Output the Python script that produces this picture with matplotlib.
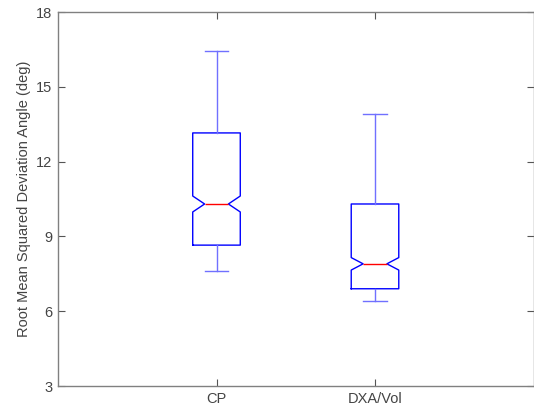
import matplotlib.pyplot as plt

# Box statistics (deg)
groups = ["CP", "DXA/Vol"]
whislo = [7.6, 6.4]
q1 = [8.65, 6.9]
med = [10.3, 7.9]
q3 = [13.15, 10.3]
whishi = [16.45, 13.9]
cilo = [9.98, 7.65]
cihi = [10.62, 8.15]

stats = []
for i, name in enumerate(groups):
    stats.append({
        "label": name, "whislo": whislo[i], "q1": q1[i], "med": med[i],
        "q3": q3[i], "whishi": whishi[i], "cilo": cilo[i], "cihi": cihi[i],
        "fliers": [],
    })

plt.rcParams["font.family"] = ["Liberation Sans", "DejaVu Sans"]

fig = plt.figure(figsize=(5.34, 4.09), dpi=100)
ax = fig.add_axes([58 / 534, 1 - 386 / 409, 475.5 / 534, 374 / 409])

ax.bxp(
    stats,
    positions=[1, 2],
    widths=0.3,
    shownotches=True,
    showfliers=False,
    boxprops=dict(color="blue", linewidth=1),
    whiskerprops=dict(color="#7070ff", linewidth=1),
    capprops=dict(color="#7070ff", linewidth=1),
    medianprops=dict(color="red", linewidth=1),
)

ax.set_xlim(0, 3)
ax.set_ylim(3, 18)
ax.set_yticks([3, 6, 9, 12, 15, 18])
ax.set_xticks([1, 2])
ax.set_xticklabels(groups)
ax.set_ylabel("Root Mean Squared Deviation Angle (deg)", fontsize=10.5,
              color="#444444", labelpad=4)

ax.tick_params(direction="in", length=5, width=0.8, color="#555555",
               labelsize=10.5, labelcolor="#444444",
               top=True, right=True, pad=4)
for s in ax.spines.values():
    s.set_color("#808080")
    s.set_linewidth(1)

fig.savefig("out.png", dpi=100)
